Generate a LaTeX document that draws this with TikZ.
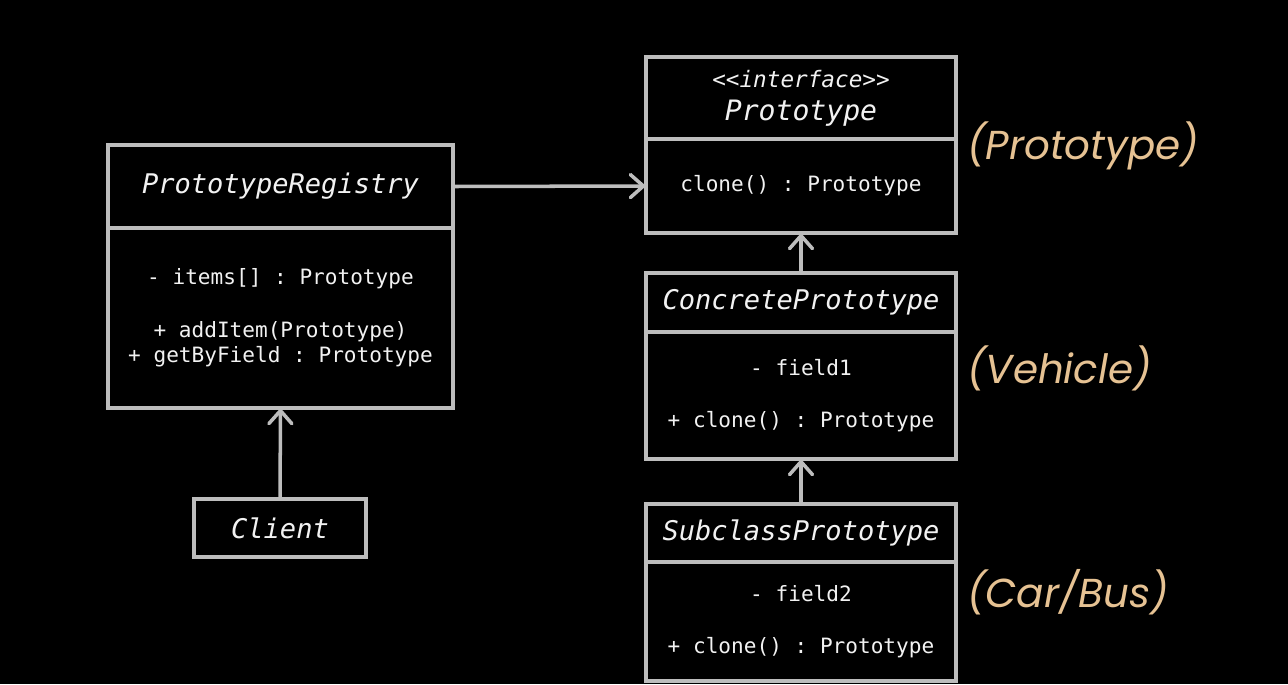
\documentclass[tikz,border=0pt]{standalone}
\usepackage{fontspec}
\setmonofont{DejaVu Sans Mono}
\newfontfamily\notefont{Poppins}
\usepackage{tikz}
\usetikzlibrary{positioning, calc, arrows.meta}
\definecolor{boxline}{HTML}{BDBDBD}
\definecolor{boxtext}{HTML}{F2F2F2}
\definecolor{notecol}{HTML}{E6C293}
\newcommand{\umlbody}{\ttfamily\fontsize{12}{14.2}\selectfont}
\newcommand{\umltitle}{\ttfamily\itshape\fontsize{15.4}{18}\selectfont}

\tikzset{
  umlbox/.style={draw=boxline, line width=2pt, fill=black, text=boxtext, inner sep=0pt, outer sep=0pt, align=center},
  gen/.style={draw=boxline, line width=2pt, -{Straight Barb[length=2.6mm,width=4.6mm,line cap=round]}},
  note/.style={anchor=west, inner sep=0pt, text=notecol, font=\notefont\itshape\fontsize{23}{26}\selectfont}
}

\begin{document}
\begin{tikzpicture}[x=0.02cm, y=-0.02cm]
  \fill[black] (0,0) rectangle (1288,684);
  \useasboundingbox (0,0) rectangle (1288,684);

  \node[umlbox, minimum width=6.9cm, minimum height=1.66cm, font=\umltitle] (regtitle) at (280.5,186.5) {PrototypeRegistry};
  \node[umlbox, minimum width=6.9cm, minimum height=3.6cm, font=\umlbody] (regbody) at (280.5,318) {- items[] : Prototype\\[15.8pt] + addItem(Prototype)\\+ getByField : Prototype};

  \node[umlbox, minimum width=3.44cm, minimum height=1.16cm, font=\umltitle] (client) at (280,528) {Client};

  \node[umlbox, minimum width=6.2cm, minimum height=1.64cm] (prototitle) at (801,98) {{\ttfamily\itshape\fontsize{12.9}{14}\selectfont <{}<interface>{}>}\\[7pt]{\ttfamily\itshape\fontsize{16}{18}\selectfont Prototype}};
  \node[umlbox, minimum width=6.2cm, minimum height=1.88cm, font=\umlbody] (protobody) at (801,186) {clone() : Prototype};

  \node[umlbox, minimum width=6.2cm, minimum height=1.18cm, font=\umltitle] (concretetitle) at (801,302.5) {ConcretePrototype};
  \node[umlbox, minimum width=6.2cm, minimum height=2.54cm, font=\umlbody] (concretebody) at (801,395.5) {- field1\\[15.8pt] + clone() : Prototype};

  \node[umlbox, minimum width=6.2cm, minimum height=1.16cm, font=\umltitle] (subtitle) at (801,533) {SubclassPrototype};
  \node[umlbox, minimum width=6.2cm, minimum height=2.38cm, font=\umlbody] (subbody) at (801,621.5) {- field2\\[15.8pt] + clone() : Prototype};

  \node[note] (noteproto) at (967,146) {(Prototype)};
  \node[note] (notevehicle) at (967,368) {(Vehicle)};
  \node[note] (notecar) at (967,592) {(Car/Bus)};

  \draw[gen] (regtitle.east) -- (protobody.west);
  \draw[gen] (client.north) -- (regbody.south);
  \draw[gen] (concretetitle.north) -- (protobody.south);
  \draw[gen] (subtitle.north) -- (concretebody.south);
\end{tikzpicture}
\end{document}
